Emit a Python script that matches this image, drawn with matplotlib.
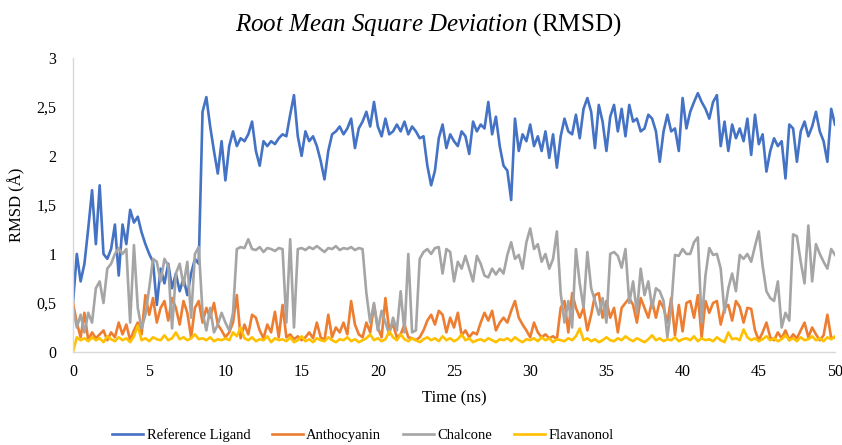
import numpy as np
import matplotlib
matplotlib.use("Agg")
import matplotlib.pyplot as plt
from matplotlib.ticker import FuncFormatter

# ---------------------------------------------------------------------------
# Data (one sample every 0.25 ns, 0 -> 50 ns)
# ---------------------------------------------------------------------------
STEP_NS = 0.25

series_names = ["Reference Ligand", "Anthocyanin", "Chalcone", "Flavanonol"]

reference_ligand = [
    0.50, 1.00, 0.72, 0.90, 1.26, 1.65, 1.10, 1.70,
    1.00, 0.95, 1.05, 1.30, 0.78, 1.30, 1.10, 1.45,
    1.32, 1.38, 1.22, 1.10, 1.00, 0.92, 0.48, 0.85,
    0.70, 0.90, 0.65, 0.80, 0.62, 0.75, 0.58, 0.80,
    0.95, 0.90, 2.45, 2.60, 2.30, 2.05, 1.82, 2.15,
    1.75, 2.10, 2.25, 2.10, 2.18, 2.15, 2.22, 2.35,
    2.05, 1.90, 2.15, 2.10, 2.15, 2.12, 2.18, 2.22,
    2.20, 2.42, 2.62, 2.20, 2.00, 2.25, 2.15, 2.20,
    2.10, 1.95, 1.76, 2.05, 2.22, 2.25, 2.30, 2.22,
    2.28, 2.38, 2.08, 2.28, 2.35, 2.45, 2.30, 2.55,
    2.30, 2.20, 2.38, 2.22, 2.25, 2.32, 2.25, 2.35,
    2.22, 2.30, 2.25, 2.18, 2.20, 1.90, 1.70, 1.85,
    2.18, 2.32, 2.08, 2.22, 2.15, 2.10, 2.25, 2.20,
    2.02, 2.35, 2.25, 2.32, 2.28, 2.55, 2.22, 2.40,
    2.10, 1.90, 1.85, 1.55, 2.38, 2.05, 2.22, 2.15,
    2.32, 2.10, 2.20, 2.05, 2.25, 1.98, 2.22, 1.88,
    2.20, 2.38, 2.25, 2.22, 2.42, 2.18, 2.48, 2.59,
    2.45, 2.08, 2.52, 2.35, 2.05, 2.40, 2.52, 2.25,
    2.48, 2.20, 2.52, 2.35, 2.38, 2.25, 2.28, 2.42,
    2.38, 2.25, 1.94, 2.25, 2.42, 2.25, 2.28, 2.05,
    2.59, 2.28, 2.45, 2.55, 2.64, 2.55, 2.48, 2.38,
    2.55, 2.62, 2.10, 2.35, 2.05, 2.32, 2.18, 2.28,
    2.15, 2.38, 2.01, 2.42, 2.12, 2.22, 1.84, 2.05,
    2.18, 2.10, 2.15, 1.77, 2.32, 2.28, 1.94, 2.25,
    2.35, 2.20, 2.30, 2.45, 2.25, 2.15, 1.94, 2.48,
    2.32,
]

anthocyanin = [
    0.50, 0.30, 0.15, 0.40, 0.12, 0.20, 0.14, 0.18,
    0.22, 0.12, 0.20, 0.15, 0.30, 0.18, 0.28, 0.12,
    0.22, 0.30, 0.18, 0.58, 0.38, 0.55, 0.30, 0.45,
    0.52, 0.32, 0.55, 0.45, 0.28, 0.52, 0.40, 0.15,
    0.45, 0.52, 0.30, 0.45, 0.35, 0.50, 0.28, 0.22,
    0.15, 0.20, 0.30, 0.58, 0.14, 0.28, 0.18, 0.38,
    0.35, 0.22, 0.14, 0.28, 0.20, 0.41, 0.15, 0.48,
    0.15, 0.18, 0.13, 0.16, 0.12, 0.15, 0.20, 0.14,
    0.30, 0.15, 0.12, 0.38, 0.15, 0.25, 0.20, 0.30,
    0.18, 0.52, 0.28, 0.18, 0.15, 0.30, 0.20, 0.48,
    0.25, 0.15, 0.55, 0.22, 0.28, 0.15, 0.18, 0.28,
    0.15, 0.14, 0.12, 0.15, 0.22, 0.32, 0.38, 0.28,
    0.42, 0.38, 0.20, 0.35, 0.25, 0.40, 0.17, 0.22,
    0.15, 0.20, 0.18, 0.30, 0.40, 0.32, 0.42, 0.22,
    0.30, 0.35, 0.30, 0.42, 0.52, 0.35, 0.28, 0.22,
    0.15, 0.30, 0.20, 0.15, 0.18, 0.14, 0.16, 0.13,
    0.45, 0.52, 0.20, 0.60, 0.45, 0.35, 0.45, 0.22,
    0.38, 0.58, 0.60, 0.35, 0.52, 0.35, 0.45, 0.20,
    0.45, 0.50, 0.55, 0.48, 0.30, 0.55, 0.45, 0.35,
    0.52, 0.35, 0.52, 0.45, 0.30, 0.55, 0.17, 0.48,
    0.21, 0.50, 0.52, 0.35, 0.58, 0.15, 0.52, 0.40,
    0.50, 0.52, 0.28, 0.45, 0.48, 0.32, 0.52, 0.46,
    0.30, 0.45, 0.44, 0.22, 0.12, 0.20, 0.30, 0.15,
    0.12, 0.20, 0.14, 0.22, 0.12, 0.18, 0.14, 0.22,
    0.30, 0.15, 0.25, 0.18, 0.12, 0.17, 0.38, 0.14,
    0.15,
]

chalcone = [
    0.45, 0.25, 0.38, 0.20, 0.40, 0.30, 0.65, 0.72,
    0.50, 0.85, 0.90, 1.00, 1.06, 1.00, 1.05, 0.30,
    1.09, 0.45, 0.24, 0.38, 0.65, 0.95, 0.92, 0.72,
    0.95, 0.88, 0.24, 0.80, 0.90, 0.68, 0.92, 0.35,
    1.00, 1.07, 0.40, 0.22, 0.45, 0.20, 0.28, 0.40,
    0.30, 0.22, 0.40, 1.05, 1.07, 1.06, 1.15, 1.05,
    1.04, 1.07, 1.02, 1.06, 1.05, 1.03, 1.06, 1.05,
    0.30, 1.15, 0.25, 1.05, 1.06, 1.04, 1.07, 1.05,
    1.08, 1.05, 1.02, 1.06, 1.05, 1.08, 1.04, 1.06,
    1.05, 1.07, 1.04, 1.06, 1.05, 0.60, 0.30, 0.50,
    0.22, 0.42, 0.30, 0.18, 0.35, 0.22, 0.62, 0.20,
    1.00, 0.20, 0.22, 0.95, 1.02, 1.05, 1.00, 1.06,
    1.07, 0.80, 1.05, 1.02, 0.72, 0.92, 0.85, 0.98,
    0.85, 0.72, 0.98, 0.90, 0.78, 0.76, 0.85, 0.79,
    0.85, 0.80, 0.99, 1.12, 0.95, 0.99, 0.85, 1.12,
    1.26, 1.05, 1.10, 0.92, 1.00, 0.85, 0.95, 1.23,
    0.60, 0.30, 0.52, 0.25, 1.05, 0.70, 0.45, 1.02,
    0.65, 0.52, 0.38, 0.55, 0.30, 1.00, 1.02, 0.98,
    0.86, 1.05, 0.50, 0.72, 0.40, 0.85, 0.58, 0.72,
    0.45, 0.65, 0.62, 0.52, 0.15, 0.45, 0.99, 0.98,
    1.05, 1.00, 1.00, 1.12, 1.17, 0.30, 0.78, 1.06,
    0.99, 1.00, 0.85, 0.40, 0.65, 0.80, 0.62, 0.99,
    0.95, 1.00, 0.92, 1.08, 1.23, 0.88, 0.62, 0.55,
    0.52, 0.72, 0.25, 0.40, 0.32, 1.20, 1.18, 0.92,
    0.70, 1.29, 0.72, 1.10, 1.00, 0.92, 0.85, 1.05,
    0.99,
]

flavanonol = [
    0.00, 0.15, 0.12, 0.14, 0.11, 0.15, 0.12, 0.14,
    0.10, 0.16, 0.13, 0.11, 0.15, 0.12, 0.14, 0.10,
    0.16, 0.27, 0.12, 0.14, 0.11, 0.15, 0.13, 0.12,
    0.17, 0.12, 0.14, 0.20, 0.13, 0.15, 0.12, 0.14,
    0.18, 0.13, 0.14, 0.12, 0.15, 0.11, 0.13, 0.12,
    0.14, 0.12, 0.20, 0.16, 0.25, 0.14, 0.12, 0.15,
    0.11, 0.13, 0.12, 0.16, 0.10, 0.14, 0.12, 0.13,
    0.11, 0.15, 0.10, 0.12, 0.16, 0.11, 0.13, 0.10,
    0.14, 0.12, 0.11, 0.15, 0.12, 0.10, 0.13, 0.12,
    0.15, 0.11, 0.13, 0.10, 0.12, 0.14, 0.18, 0.12,
    0.14, 0.11, 0.13, 0.21, 0.15, 0.12, 0.18, 0.13,
    0.11, 0.14, 0.12, 0.10, 0.13, 0.15, 0.12, 0.14,
    0.11, 0.16, 0.12, 0.14, 0.11, 0.13, 0.18, 0.12,
    0.14, 0.10, 0.12, 0.13, 0.11, 0.14, 0.12, 0.10,
    0.13, 0.12, 0.14, 0.11, 0.15, 0.12, 0.10, 0.13,
    0.12, 0.14, 0.11, 0.15, 0.12, 0.14, 0.10, 0.13,
    0.12, 0.11, 0.14, 0.12, 0.16, 0.24, 0.12, 0.14,
    0.11, 0.13, 0.10, 0.12, 0.15, 0.12, 0.11, 0.14,
    0.12, 0.16, 0.13, 0.11, 0.14, 0.12, 0.10, 0.13,
    0.17, 0.12, 0.14, 0.11, 0.13, 0.12, 0.15, 0.11,
    0.13, 0.14, 0.12, 0.16, 0.11, 0.14, 0.12, 0.13,
    0.11, 0.15, 0.12, 0.10, 0.20, 0.13, 0.14, 0.12,
    0.23, 0.15, 0.12, 0.14, 0.11, 0.13, 0.16, 0.12,
    0.14, 0.11, 0.13, 0.17, 0.12, 0.14, 0.11, 0.15,
    0.12, 0.13, 0.16, 0.12, 0.14, 0.11, 0.15, 0.13,
    0.16,
]

# Excel default palette
series_colors = ["#4472C4", "#ED7D31", "#A5A5A5", "#FFC000"]

x_ticks = [0, 5, 10, 15, 20, 25, 30, 35, 40, 45, 50]
y_ticks = [0, 0.5, 1, 1.5, 2, 2.5, 3]


def _comma_decimal(value, _pos):
    """Format tick values with a decimal comma (0,5 instead of 0.5)."""
    return f"{value:g}".replace(".", ",")


def main() -> None:
    plt.rcParams["font.family"] = ["Liberation Serif", "DejaVu Serif"]
    plt.rcParams["mathtext.fontset"] = "custom"
    plt.rcParams["mathtext.rm"] = "Liberation Serif"
    plt.rcParams["mathtext.it"] = "Liberation Serif:italic"

    fig = plt.figure(figsize=(8.42, 4.45), dpi=100)
    ax = fig.add_axes([0.0867, 0.209, 0.905, 0.661])

    all_series = [reference_ligand, anthocyanin, chalcone, flavanonol]
    for name, values, color in zip(series_names, all_series, series_colors):
        time_ns = np.arange(len(values)) * STEP_NS
        ax.plot(time_ns, values, color=color, linewidth=1.9, label=name)

    ax.set_xlim(0, 50)
    ax.set_ylim(0, 3)
    ax.set_xticks(x_ticks)
    ax.set_yticks(y_ticks)
    ax.yaxis.set_major_formatter(FuncFormatter(_comma_decimal))

    # Light grey axis lines on left and bottom only, no tick marks
    for side in ["top", "right"]:
        ax.spines[side].set_visible(False)
    for side in ["left", "bottom"]:
        ax.spines[side].set_color("#D9D9D9")
        ax.spines[side].set_linewidth(1.0)
    ax.tick_params(axis="both", length=0, labelsize=11.5, colors="black")
    ax.tick_params(axis="y", pad=12)
    ax.tick_params(axis="x", pad=9)

    ax.set_xlabel("Time (ns)", fontsize=12, labelpad=7)
    ax.set_ylabel("RMSD (Å)", fontsize=12, labelpad=8)

    fig.text(0.508, 0.944,
             r"$\mathit{Root\ Mean\ Square\ Deviation}$ (RMSD)",
             ha="center", va="center", fontsize=18)

    fig.legend(loc="center", bbox_to_anchor=(0.431, 0.022), ncol=4,
               frameon=False, fontsize=10.5, handlelength=2.1,
               handletextpad=0.25, columnspacing=1.5)

    fig.savefig("out.png", dpi=100)
    plt.close(fig)


if __name__ == "__main__":
    main()
